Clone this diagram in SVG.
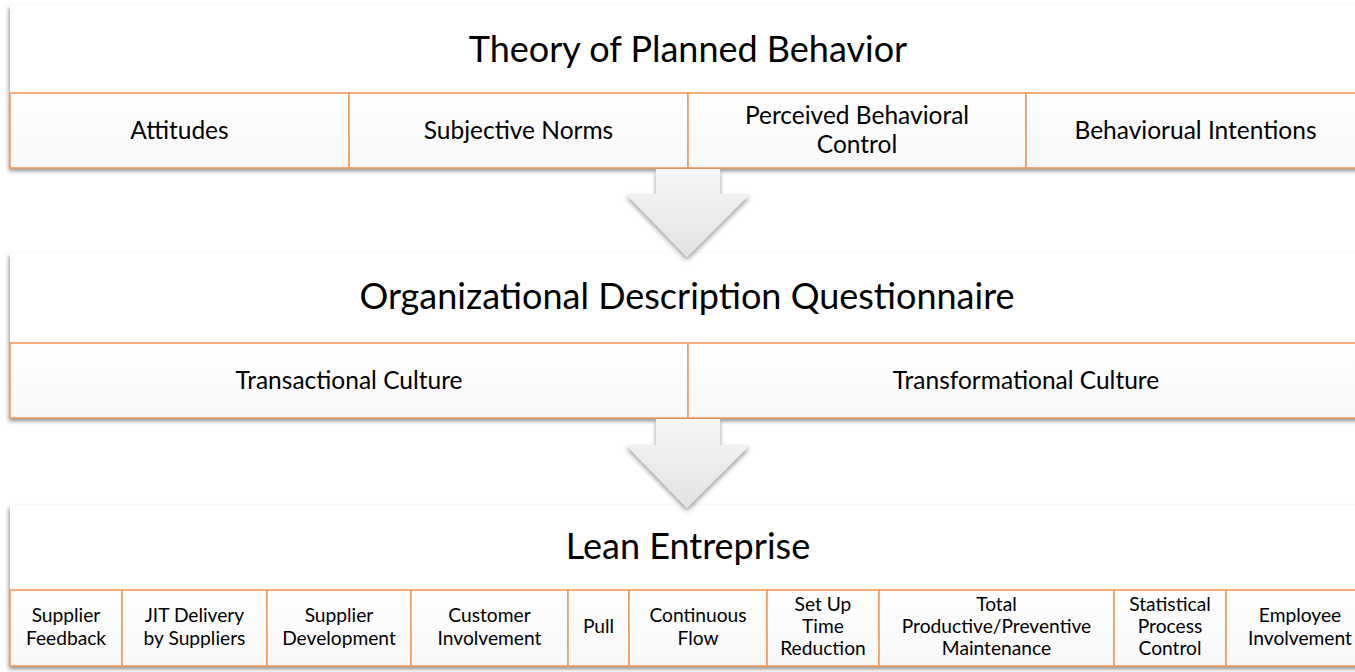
<svg xmlns="http://www.w3.org/2000/svg" width="1355" height="672" viewBox="0 0 1355 672">
  <style>
    .panel { fill: #ffffff; }
    .cell { fill: url(#cellFill); stroke: #F29B5F; stroke-width: 1.6; }
    .title { font-family: Lato, "Open Sans", sans-serif; font-size: 36px; fill: #000; text-anchor: middle; }
    .lbl { font-family: Lato, "Open Sans", sans-serif; font-size: 24.5px; fill: #000; text-anchor: middle; }
    .sm { font-family: Lato, "Open Sans", sans-serif; font-size: 19.2px; fill: #000; text-anchor: middle; }
    .arrow { fill: url(#arrowFill); }
  </style>
  <defs>
    <linearGradient id="cellFill" x1="0" y1="0" x2="0" y2="1">
      <stop offset="0" stop-color="#ffffff"/>
      <stop offset="1" stop-color="#f8f8f8"/>
    </linearGradient>
    <linearGradient id="arrowFill" x1="0" y1="0" x2="0" y2="1">
      <stop offset="0" stop-color="#f6f6f6"/>
      <stop offset="1" stop-color="#e3e3e3"/>
    </linearGradient>
    <filter id="panelShadow" x="-5%" y="-10%" width="110%" height="130%">
      <feDropShadow dx="-1" dy="3" stdDeviation="2" flood-color="#000" flood-opacity="0.45"/>
    </filter>
    <filter id="arrowShadow" x="-20%" y="-20%" width="140%" height="150%">
      <feDropShadow dx="0" dy="3" stdDeviation="2.5" flood-color="#000" flood-opacity="0.4"/>
    </filter>
  </defs>

  <rect width="1355" height="672" fill="#ffffff"/>

  <!-- Theory of Planned Behavior -->
  <g id="tpb">
    <rect class="panel" x="10" y="5" width="1360" height="163" filter="url(#panelShadow)"/>
    <text class="title" x="688" y="62">Theory of Planned Behavior</text>
    <rect class="cell" x="10" y="93" width="339" height="75"/>
    <rect class="cell" x="349" y="93" width="339" height="75"/>
    <rect class="cell" x="688" y="93" width="338" height="75"/>
    <rect class="cell" x="1026" y="93" width="344" height="75"/>
    <text class="lbl" x="179.5" y="139">Attitudes</text>
    <text class="lbl" x="518.5" y="139">Subjective Norms</text>
    <text class="lbl" x="857" y="124">Perceived Behavioral</text>
    <text class="lbl" x="857" y="153">Control</text>
    <text class="lbl" x="1195.5" y="139">Behaviorual Intentions</text>
  </g>

  <!-- Organizational Description Questionnaire -->
  <g id="odq">
    <rect class="panel" x="10" y="253" width="1360" height="165" filter="url(#panelShadow)"/>
    <text class="title" x="687" y="309">Organizational Description Questionnaire</text>
    <rect class="cell" x="10" y="343" width="678" height="75"/>
    <rect class="cell" x="688" y="343" width="682" height="75"/>
    <text class="lbl" x="349" y="389">Transactional Culture</text>
    <text class="lbl" x="1026" y="389">Transformational Culture</text>
  </g>

  <!-- Lean Entreprise -->
  <g id="lean">
    <rect class="panel" x="10" y="505" width="1366" height="161" filter="url(#panelShadow)"/>
    <text class="title" x="688" y="559">Lean Entreprise</text>
    <rect class="cell" x="10" y="590" width="112" height="76"/>
    <rect class="cell" x="122" y="590" width="145" height="76"/>
    <rect class="cell" x="267" y="590" width="144" height="76"/>
    <rect class="cell" x="411" y="590" width="157" height="76"/>
    <rect class="cell" x="568" y="590" width="61" height="76"/>
    <rect class="cell" x="629" y="590" width="138" height="76"/>
    <rect class="cell" x="767" y="590" width="112" height="76"/>
    <rect class="cell" x="879" y="590" width="235" height="76"/>
    <rect class="cell" x="1114" y="590" width="112" height="76"/>
    <rect class="cell" x="1226" y="590" width="150" height="76"/>
    <text class="sm" x="66" y="622">Supplier</text>
    <text class="sm" x="66" y="645">Feedback</text>
    <text class="sm" x="194.5" y="622">JIT Delivery</text>
    <text class="sm" x="194.5" y="645">by Suppliers</text>
    <text class="sm" x="339" y="622">Supplier</text>
    <text class="sm" x="339" y="645">Development</text>
    <text class="sm" x="489.5" y="622">Customer</text>
    <text class="sm" x="489.5" y="645">Involvement</text>
    <text class="sm" x="598.5" y="633">Pull</text>
    <text class="sm" x="698" y="622">Continuous</text>
    <text class="sm" x="698" y="645">Flow</text>
    <text class="sm" x="823" y="611">Set Up</text>
    <text class="sm" x="823" y="633">Time</text>
    <text class="sm" x="823" y="655">Reduction</text>
    <text class="sm" x="996.5" y="611">Total</text>
    <text class="sm" x="996.5" y="633">Productive/Preventive</text>
    <text class="sm" x="996.5" y="655">Maintenance</text>
    <text class="sm" x="1170" y="611">Statistical</text>
    <text class="sm" x="1170" y="633">Process</text>
    <text class="sm" x="1170" y="655">Control</text>
    <text class="sm" x="1300" y="622">Employee</text>
    <text class="sm" x="1300" y="645">Involvement</text>
  </g>

  <!-- downward block arrows between stages -->
  <g id="connectors">
    <path class="arrow" filter="url(#arrowShadow)" d="M656,169 H720 V194 H750 L687,257 L626,194 H656 Z"/>
    <path class="arrow" filter="url(#arrowShadow)" d="M656,419 H720 V445 H750 L687,508 L626,445 H656 Z"/>
  </g>
</svg>
